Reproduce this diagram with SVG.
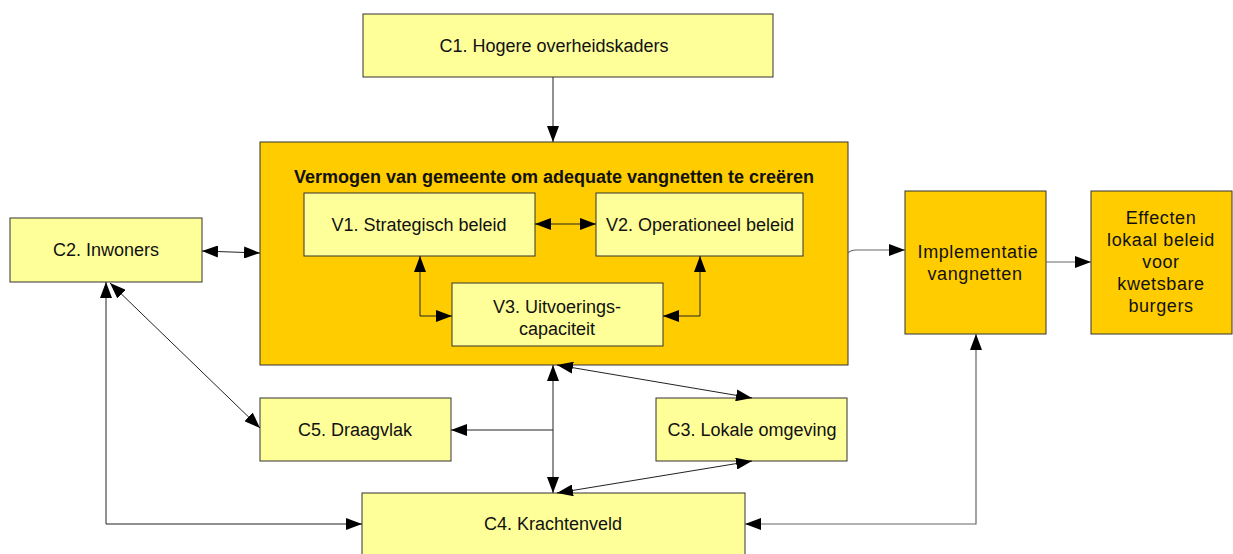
<svg xmlns="http://www.w3.org/2000/svg" width="1233" height="554" viewBox="0 0 1233 554">
<defs>
<marker id="ah" markerUnits="userSpaceOnUse" markerWidth="18" markerHeight="12" refX="16" refY="6" orient="auto-start-reverse" viewBox="0 0 18 12">
<path d="M0,0 L16,6 L0,12 Z" fill="#000"/>
</marker>
<style>
.lt{fill:#FFFF99;stroke:#333;stroke-width:1}
.dk{fill:#FFCC00;stroke:#333;stroke-width:1}
.t{font-family:"Liberation Sans",Arial,sans-serif;font-size:18px;fill:#111;text-anchor:middle}
.tw{letter-spacing:0.6px}
.tb{font-family:"Liberation Sans",Arial,sans-serif;font-size:18px;font-weight:bold;fill:#111;text-anchor:middle}
.c{fill:none;stroke:#222;stroke-width:1}
.cg{fill:none;stroke:#666;stroke-width:1.2}
</style>
</defs>
<rect width="1233" height="554" fill="#fff"/>
<g id="C1"><rect class="lt" x="363" y="14" width="410" height="63"/><text class="t" x="554" y="52">C1. Hogere overheidskaders</text></g>
<g id="main"><rect class="dk" x="260" y="142" width="588" height="223"/><text class="tb" x="554" y="183">Vermogen van gemeente om adequate vangnetten te creëren</text></g>
<g id="V1"><rect class="lt" x="304" y="193" width="231" height="63"/><text class="t" x="419" y="231">V1. Strategisch beleid</text></g>
<g id="V2"><rect class="lt" x="596" y="193" width="207" height="63"/><text class="t" x="700" y="231">V2. Operationeel beleid</text></g>
<g id="V3"><rect class="lt" x="452" y="283" width="211" height="63"/><text class="t" x="557" y="313">V3. Uitvoerings-</text><text class="t" x="557" y="335">capaciteit</text></g>
<g id="C2"><rect class="lt" x="10" y="218" width="192" height="64"/><text class="t" x="106" y="256">C2. Inwoners</text></g>
<g id="C5"><rect class="lt" x="260" y="398" width="191" height="63"/><text class="t" x="355" y="436">C5. Draagvlak</text></g>
<g id="C3"><rect class="lt" x="656" y="398" width="191" height="63"/><text class="t" x="752" y="436">C3. Lokale omgeving</text></g>
<g id="C4"><rect class="lt" x="362" y="493" width="383" height="70"/><text class="t" x="553" y="530">C4. Krachtenveld</text></g>
<g id="Impl"><rect class="dk" x="905" y="191" width="141" height="143"/><text class="t tw" x="978" y="258">Implementatie</text><text class="t tw" x="975" y="280">vangnetten</text></g>
<g id="Eff"><rect class="dk" x="1091" y="191" width="141" height="143"/><text class="t tw" x="1161" y="224">Effecten</text><text class="t tw" x="1161" y="246">lokaal beleid</text><text class="t tw" x="1161" y="268">voor</text><text class="t tw" x="1161" y="290">kwetsbare</text><text class="t tw" x="1161" y="312">burgers</text></g>
<g id="connectors">
<path class="c" d="M553,77 L553,142" marker-end="url(#ah)"/>
<path class="c" d="M535,224 L596,224" marker-start="url(#ah)" marker-end="url(#ah)"/>
<path class="c" d="M420,256 L420,316 L452,316" marker-start="url(#ah)" marker-end="url(#ah)"/>
<path class="c" d="M700,256 L700,316 L663,316" marker-start="url(#ah)" marker-end="url(#ah)"/>
<path class="c" d="M202,251 L260,253" marker-start="url(#ah)" marker-end="url(#ah)"/>
<path class="cg" d="M848,253 Q851,250 856,250 L905,250" marker-end="url(#ah)"/>
<path class="cg" d="M1046,262 L1091,262" marker-end="url(#ah)"/>
<path class="cg" d="M745,524 L976,524 L976,334" marker-start="url(#ah)" marker-end="url(#ah)"/>
<path class="c" d="M106,282 L106,524 L362,524" marker-start="url(#ah)" marker-end="url(#ah)"/>
<path class="c" d="M110,283 L260,428" marker-start="url(#ah)" marker-end="url(#ah)"/>
<path class="c" d="M553,365 L553,493" marker-start="url(#ah)" marker-end="url(#ah)"/>
<path class="c" d="M553,430 L451,430" marker-end="url(#ah)"/>
<path class="c" d="M557,365 L752,398" marker-start="url(#ah)" marker-end="url(#ah)"/>
<path class="c" d="M557,493 L752,461" marker-start="url(#ah)" marker-end="url(#ah)"/>
</g>
</svg>
